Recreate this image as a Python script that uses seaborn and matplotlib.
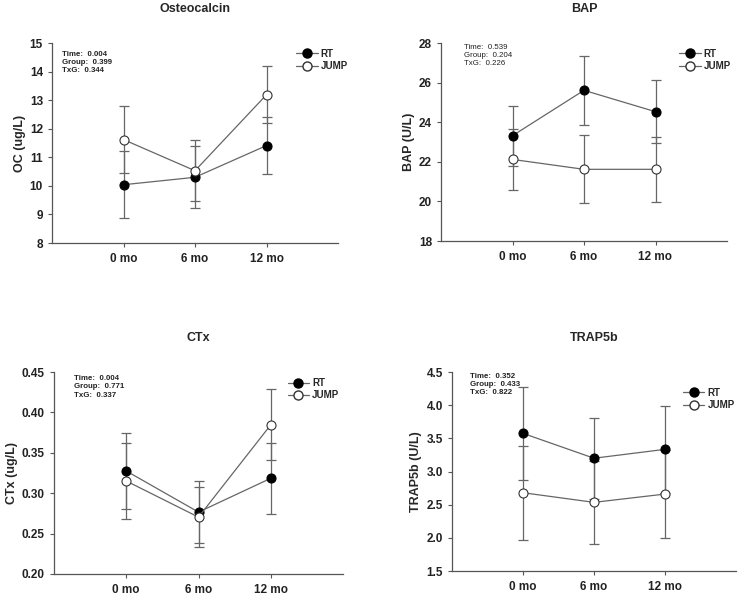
import numpy as np
import pandas as pd
import matplotlib
matplotlib.use("Agg")
import matplotlib.pyplot as plt
from matplotlib.lines import Line2D
import seaborn as sns

sns.set_style("ticks")
plt.rcParams['font.family'] = ['Liberation Sans', 'DejaVu Sans']

timepoints = ["0 mo", "6 mo", "12 mo"]
groups = ["RT", "JUMP"]

# Osteocalcin
oc_rt = [10.04, 10.30, 11.41]
oc_rt_err = [1.17, 1.08, 1.00]
oc_jump = [11.62, 10.53, 13.19]
oc_jump_err = [1.16, 1.06, 1.00]

# BAP
bap_rt = [23.32, 25.61, 24.53]
bap_rt_err = [1.52, 1.73, 1.58]
bap_jump = [22.12, 21.62, 21.62]
bap_jump_err = [1.53, 1.72, 1.63]

# CTx
ctx_rt = [0.3275, 0.2766, 0.3184]
ctx_rt_err = [0.0468, 0.038, 0.044]
ctx_jump = [0.3151, 0.2704, 0.3846]
ctx_jump_err = [0.047, 0.0373, 0.044]

# TRAP5b
trap_rt = [3.575, 3.20, 3.334]
trap_rt_err = [0.70, 0.61, 0.66]
trap_jump = [2.68, 2.535, 2.66]
trap_jump_err = [0.71, 0.63, 0.67]

stats_oc = ["Time:  0.004", "Group:  0.399", "TxG:  0.344"]
stats_bap = ["Time:  0.539", "Group:  0.204", "TxG:  0.226"]
stats_ctx = ["Time:  0.004", "Group:  0.771", "TxG:  0.337"]
stats_trap = ["Time:  0.352", "Group:  0.433", "TxG:  0.822"]

fig = plt.figure(figsize=(7.38, 5.97), dpi=100)

panels = [
    dict(title="Osteocalcin", ylabel="OC (ug/L)", rt=oc_rt, rte=oc_rt_err, jp=oc_jump, jpe=oc_jump_err,
         ylim=(8, 15), yticks=np.arange(8, 16, 1), fmt="{:.0f}", stats=stats_oc, bold=True,
         rect=[52/738, 1-243/597, 286/738, 200/597], stxy=(0.035, 0.96), legxy=(0.84, 0.99)),
    dict(title="BAP", ylabel="BAP (U/L)", rt=bap_rt, rte=bap_rt_err, jp=bap_jump, jpe=bap_jump_err,
         ylim=(18, 28), yticks=np.arange(18, 29, 2), fmt="{:.0f}", stats=stats_bap, bold=False,
         rect=[441/738, 1-241/597, 286/738, 198/597], stxy=(0.08, 0.995), legxy=(0.82, 0.99)),
    dict(title="CTx", ylabel="CTx (ug/L)", rt=ctx_rt, rte=ctx_rt_err, jp=ctx_jump, jpe=ctx_jump_err,
         ylim=(0.20, 0.45), yticks=np.arange(0.20, 0.451, 0.05), fmt="{:.2f}", stats=stats_ctx, bold=True,
         rect=[54/738, 1-574/597, 289/738, 202/597], stxy=(0.07, 0.985), legxy=(0.795, 0.99)),
    dict(title="TRAP5b", ylabel="TRAP5b (U/L)", rt=trap_rt, rte=trap_rt_err, jp=trap_jump, jpe=trap_jump_err,
         ylim=(1.5, 4.5), yticks=np.arange(1.5, 4.51, 0.5), fmt="{:.1f}", stats=stats_trap, bold=True,
         rect=[452/738, 1-571/597, 284/738, 199/597], stxy=(0.065, 0.995), legxy=(0.80, 0.94)),
]

line_color = "#666666"
x_idx = np.arange(len(timepoints))

for p in panels:
    ax = fig.add_axes(p["rect"])
    df = pd.DataFrame({
        "x": np.concatenate([x_idx, x_idx]),
        "value": p["rt"] + p["jp"],
        "group": ["RT"] * 3 + ["JUMP"] * 3,
    })
    ax.errorbar(x_idx, p["rt"], yerr=p["rte"], fmt="none", ecolor=line_color, elinewidth=0.9,
                capsize=3.5, capthick=0.9, zorder=1)
    ax.errorbar(x_idx, p["jp"], yerr=p["jpe"], fmt="none", ecolor=line_color, elinewidth=0.9,
                capsize=3.5, capthick=0.9, zorder=1)
    sns.lineplot(data=df[df.group == "RT"], x="x", y="value", ax=ax, color=line_color, lw=0.9,
                 marker="o", markersize=6.5, markerfacecolor="black", markeredgecolor="black",
                 markeredgewidth=0.8, zorder=3, legend=False)
    sns.lineplot(data=df[df.group == "JUMP"], x="x", y="value", ax=ax, color=line_color, lw=0.9,
                 marker="o", markersize=6.5, markerfacecolor="white", markeredgecolor="#333333",
                 markeredgewidth=0.8, zorder=3, legend=False)
    ax.set_xlim(-1, 3)
    ax.set_ylim(*p["ylim"])
    ax.set_xticks(x_idx)
    ax.set_xticklabels(timepoints, fontsize=8.5, fontweight="bold")
    ax.set_yticks(p["yticks"])
    ax.set_yticklabels([p["fmt"].format(v) for v in p["yticks"]], fontsize=8.5, fontweight="bold")
    ax.set_xlabel("")
    ax.set_ylabel(p["ylabel"], fontsize=9, fontweight="bold", labelpad=3)
    ax.set_title(p["title"], fontsize=9, fontweight="bold", pad=22)
    for s in ["top", "right"]:
        ax.spines[s].set_visible(False)
    for s in ["left", "bottom"]:
        ax.spines[s].set_color("#555555")
        ax.spines[s].set_linewidth(0.9)
    ax.tick_params(axis="both", colors="#555555", length=3, width=0.8, labelcolor="#222222")
    ax.tick_params(axis="x", pad=4)
    ax.text(p["stxy"][0], p["stxy"][1], "\n".join(p["stats"]), transform=ax.transAxes,
            fontsize=5.7, fontweight="bold" if p["bold"] else "normal", va="top", ha="left",
            linespacing=1.25, color="#222222")
    handles = [
        Line2D([], [], color=line_color, lw=0.9, marker="o", markersize=6.5,
               markerfacecolor="black", markeredgecolor="black"),
        Line2D([], [], color=line_color, lw=0.9, marker="o", markersize=6.5,
               markerfacecolor="white", markeredgecolor="#333333"),
    ]
    ax.legend(handles, groups, loc="upper left", bbox_to_anchor=p["legxy"], frameon=False,
              prop={"size": 7, "weight": "bold"}, handlelength=2.2, handletextpad=0.3,
              labelspacing=0.25, borderaxespad=0)

fig.savefig("out.png", dpi=100)
